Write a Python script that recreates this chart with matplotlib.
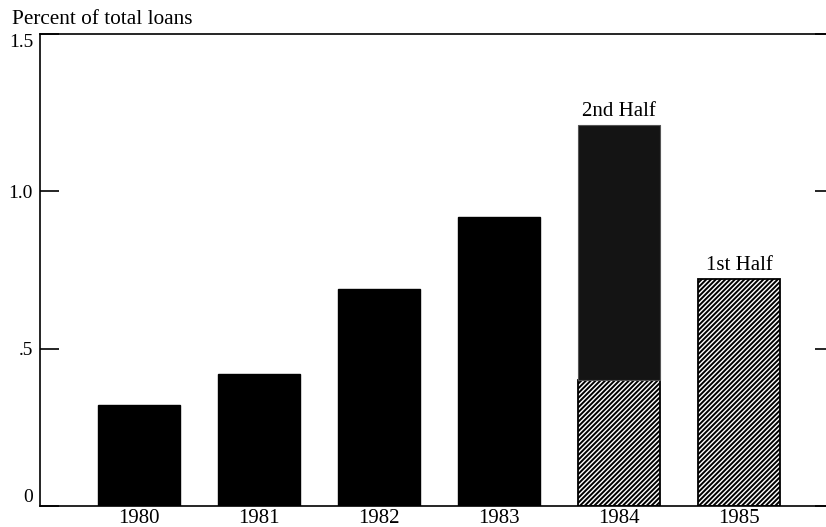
import matplotlib
matplotlib.use("Agg")
from matplotlib import pyplot as plt
import numpy as np

years = ['1980', '1981', '1982', '1983', '1984', '1985']
# share of loans, solid bars for full years
full_year = [0.32, 0.42, 0.69, 0.92]
# 1984 split into halves, 1985 first half only
first_half = [0.40, 0.72]
second_half_1984 = 1.21 - 0.40
yticks = [0, 0.5, 1.0, 1.5]
ytick_labels = ['0', '.5', '1.0', '1.5']

plt.rcParams['font.family'] = ['Liberation Serif', 'DejaVu Serif']
plt.rcParams['hatch.linewidth'] = 1.4

fig = plt.figure(figsize=(8.26, 5.27), dpi=100)
ax = fig.add_axes([40 / 826, 21 / 527, 794 / 826, 472 / 527])

x = np.arange(len(years))
w = 0.68

ax.bar(x[:4], full_year, width=w, color='black', edgecolor='black')
ax.bar(x[4:], first_half, width=w, color='white', edgecolor='black',
       hatch='///////', linewidth=1.3)
ax.bar(x[4], second_half_1984, bottom=first_half[0], width=w,
       color='#141414', edgecolor='#555555', linewidth=0.8)

ax.text(x[4], first_half[0] + second_half_1984 + 0.015, '2nd Half',
        ha='center', va='bottom', fontsize=15)
ax.text(x[5], first_half[1] + 0.015, '1st Half',
        ha='center', va='bottom', fontsize=15)

ax.set_xlim(-0.825, 5.79)
ax.set_ylim(0, 1.5)
ax.set_xticks(x)
ax.set_xticklabels(years, fontsize=15)
ax.tick_params(axis='x', length=0, pad=2)

ax.set_yticks(yticks)
ax.set_yticklabels(ytick_labels, fontsize=14)
ax.tick_params(axis='y', direction='in', length=14, width=1.2,
               pad=5, right=True)
labels = ax.get_yticklabels()
labels[0].set_verticalalignment('bottom')
labels[-1].set_verticalalignment('top')

for side in ['left', 'bottom', 'top']:
    ax.spines[side].set_linewidth(1.2)
ax.spines['right'].set_visible(False)

fig.text(12 / 826, 1 - 20 / 527, 'Percent of total loans', fontsize=15.3,
         ha='left', va='center')

fig.savefig('out.png', dpi=100)
